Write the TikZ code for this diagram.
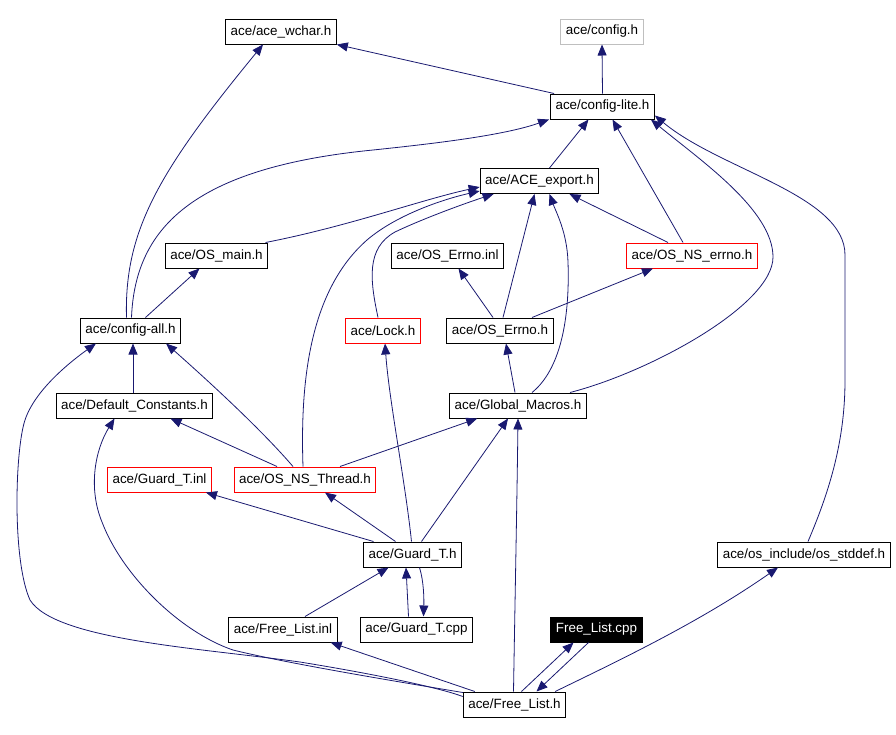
\documentclass[tikz,border=0pt]{standalone}
\usepackage{fontspec}
\setmainfont{Liberation Sans}
\usetikzlibrary{arrows.meta}
\definecolor{edgeblue}{HTML}{191970}
\definecolor{boxgray}{HTML}{BFBFBF}

\begin{document}
\begin{tikzpicture}[x=1pt,y=-1pt,
  file/.style={draw,line width=1pt,inner xsep=5pt,inner ysep=0pt,minimum height=25pt,font=\fontsize{13.4}{15}\selectfont},
  redfile/.style={file,draw=red},
  grayfile/.style={file,draw=boxgray},
  curfile/.style={file,fill=black,text=white},
  dep/.style={edgeblue,line width=0.8pt,-{Triangle[length=11pt,width=9pt]}}]
  \path[use as bounding box] (0,0) rectangle (896,734);

  \node[file] (wchar) at (281,31.5) {ace/ace\_wchar.h};
  \node[grayfile] (config) at (602,31.5) {ace/config.h};
  \node[file] (configlite) at (602.5,106.5) {ace/config-lite.h};
  \node[file] (aceexport) at (539.5,181) {ace/ACE\_export.h};
  \node[file] (osmain) at (216.5,255.5) {ace/OS\_main.h};
  \node[file] (errnoinl) at (447.5,255.5) {ace/OS\_Errno.inl};
  \node[redfile] (nserrno) at (692,255.5) {ace/OS\_NS\_errno.h};
  \node[file] (configall) at (130.5,330.5) {ace/config-all.h};
  \node[redfile] (lock) at (383,330.5) {ace/Lock.h};
  \node[file] (errnoh) at (500,330.5) {ace/OS\_Errno.h};
  \node[file] (defconst) at (134.5,405.5) {ace/Default\_Constants.h};
  \node[file] (globmac) at (518,405.5) {ace/Global\_Macros.h};
  \node[redfile] (guardinl) at (159.5,479.5) {ace/Guard\_T.inl};
  \node[redfile] (nsthread) at (305,479.5) {ace/OS\_NS\_Thread.h};
  \node[file] (guardh) at (412.5,554.5) {ace/Guard\_T.h};
  \node[file] (stddef) at (804,554.5) {ace/os\_include/os\_stddef.h};
  \node[file] (freeinl) at (283,629.5) {ace/Free\_List.inl};
  \node[file] (guardcpp) at (416.5,629.5) {ace/Guard\_T.cpp};
  \node[curfile] (freecpp) at (596.5,629.5) {Free\_List.cpp};
  \node[file] (freeh) at (514.5,704.5) {ace/Free\_List.h};

  \draw[dep] ([xshift=4pt]configlite.north west) -- (wchar.south east);
  \draw[dep] (configlite.north) -- (config.south);
  \draw[dep] ([xshift=-4pt]configall.north) .. controls (124,230) and (160,170) .. ([xshift=-18pt]wchar.south);
  \draw[dep] ([xshift=1pt]configall.north) .. controls (135,230) and (190,168) .. (373,150) .. controls (440,143) and (505,135) .. ([xshift=-1pt]configlite.south west);
  \draw[dep] ([xshift=10pt]aceexport.north) -- ([xshift=-14pt]configlite.south);
  \draw[dep] ([xshift=-9pt]nserrno.north) -- ([xshift=10pt]configlite.south);
  \draw[dep] ([xshift=52pt]globmac.north) .. controls (650,372) and (773,305) .. (773,257) .. controls (773,210) and (700,160) .. ([xshift=-4pt]configlite.south east);
  \draw[dep] ([xshift=4pt]stddef.north) .. controls (830,490) and (845,440) .. (845,380) -- (845,255) .. controls (845,195) and (720,170) .. ([yshift=4pt]configlite.south east);

  \draw[dep] ([xshift=49pt]osmain.north) .. controls (350,226) and (420,200) .. ([yshift=-6pt]aceexport.west);
  \draw[dep] ([xshift=-2pt]nsthread.north) .. controls (300,380) and (310,290) .. (367,240) .. controls (395,216) and (440,200) .. ([yshift=3pt]aceexport.south west);
  \draw[dep] ([xshift=-5pt]lock.north) .. controls (370,280) and (366,248) .. (395,232) .. controls (420,220) and (460,205) .. ([xshift=14pt]aceexport.south west);
  \draw[dep] ([xshift=3pt]errnoh.north) -- ([xshift=-5pt]aceexport.south);
  \draw[dep] ([xshift=14pt]globmac.north) .. controls (560,370) and (570,320) .. (568,262) .. controls (567,232) and (556,212) .. ([xshift=10pt]aceexport.south);
  \draw[dep] ([xshift=-24pt]nserrno.north) -- ([xshift=30pt]aceexport.south);

  \draw[dep] ([xshift=15pt]configall.north) -- ([xshift=-17pt]osmain.south);
  \draw[dep] ([xshift=-7pt]errnoh.north) -- ([xshift=11pt]errnoinl.south);
  \draw[dep] ([xshift=32pt]errnoh.north) -- ([xshift=-39pt]nserrno.south);
  \draw[dep] ([xshift=-1.5pt]defconst.north) -- ([xshift=2.5pt]configall.south);
  \draw[dep] ([xshift=-12pt]nsthread.north) .. controls (260,428) and (205,378) .. ([xshift=-15pt]configall.south east);
  \draw[dep] ([yshift=-5pt]freeh.north west) .. controls (440,688) and (380,675) .. (300,662) .. controls (200,648) and (55,640) .. (30,600) .. controls (12,560) and (15,450) .. (25,420) .. controls (35,390) and (70,362) .. ([xshift=16pt]configall.south west);
  \draw[dep] ([xshift=-3pt]globmac.north) -- ([xshift=6pt]errnoh.south);

  \draw[dep] ([xshift=-28pt]nsthread.north) -- ([xshift=36pt]defconst.south);
  \draw[dep] ([yshift=-1pt]freeh.north west) .. controls (400,682) and (290,664) .. (233,650) .. controls (180,632) and (122,575) .. (102,522) .. controls (88,488) and (95,450) .. ([xshift=-20pt]defconst.south);
  \draw[dep] ([xshift=35pt]nsthread.north) -- ([xshift=28pt]globmac.south west);

  \draw[dep] ([xshift=-39pt]guardh.north) -- ([xshift=-6pt]guardinl.south east);
  \draw[dep] ([xshift=-17pt]guardh.north) -- ([xshift=20pt]nsthread.south);
  \draw[dep] ([xshift=-1pt]guardh.north) .. controls (405,480) and (389,400) .. ([xshift=2pt]lock.south);
  \draw[dep] ([xshift=9pt]guardh.north) -- ([xshift=-10pt]globmac.south);

  \draw[dep] ([xshift=22pt]freeinl.north) -- ([xshift=-24pt]guardh.south);
  \draw[dep] ([xshift=-8pt]guardcpp.north) -- ([xshift=-6.5pt]guardh.south);
  \draw[dep] ([xshift=7pt]guardh.south) .. controls (424,582) and (424,600) .. ([xshift=7pt]guardcpp.north);

  \draw[dep] ([xshift=12pt]freeh.north west) -- ([xshift=-7pt]freeinl.south east);
  \draw[dep] ([xshift=-1pt]freeh.north) .. controls (515,600) and (517,500) .. (globmac.south);
  \draw[dep] ([xshift=7pt]freeh.north) -- ([xshift=-23pt]freecpp.south);
  \draw[dep] ([xshift=-8pt]freecpp.south) -- ([xshift=22pt]freeh.north);
  \draw[dep] ([xshift=-11pt]freeh.north east) .. controls (620,660) and (700,622) .. ([xshift=-26pt]stddef.south);
\end{tikzpicture}
\end{document}
